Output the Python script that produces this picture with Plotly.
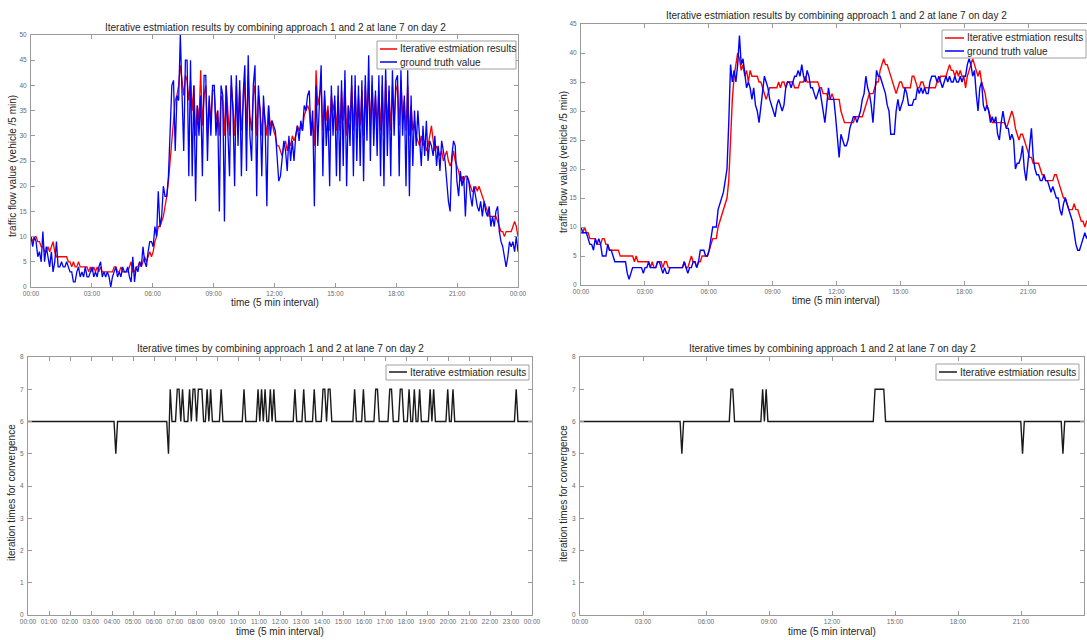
import pandas as pd
import plotly.graph_objects as go

W, H = 1087, 640
FONT = "Liberation Sans, Arial, sans-serif"

DAY0 = "2016-01-01 00:00"
DAY1 = "2016-01-02 00:00"
times = pd.date_range(DAY0, DAY1, periods=288)

TITLE_FLOW = "Iterative estmiation results by combining approach 1 and 2 at lane 7 on day 2"
TITLE_ITER = "Iterative times by combining approach 1 and 2 at lane 7 on day 2"
X_TITLE = "time (5 min interval)"
Y_TITLE_FLOW = "traffic flow value (vehicle /5 min)"
Y_TITLE_ITER = "iteration times for convergence"
NAME_EST = "Iterative estmiation results"
NAME_TRUTH = "ground truth value"

RED = "#ff0000"
BLUE = "#0000ff"
BLACK = "#1a1a1a"

# left column, one row = one hour of 5-min samples
est_left = [
    10, 9, 10, 10, 9, 9, 8, 8, 7, 7, 8, 7,
    8, 9, 7, 6, 6, 6, 6, 6, 6, 6, 5, 5,
    4, 5, 4, 4, 5, 4, 4, 4, 4, 4, 3, 4,
    3, 4, 3, 4, 3, 4, 3, 3, 3, 3, 3, 3,
    3, 4, 4, 3, 3, 4, 3, 3, 3, 3, 4, 5,
    3, 3, 4, 4, 5, 4, 5, 6, 5, 6, 7, 6,
    7, 9, 10, 12, 12, 13, 14, 16, 18, 21, 25, 30,
    33, 37, 38, 40, 44, 41, 38, 42, 41, 37, 41, 35,
    40, 30, 36, 33, 43, 32, 38, 40, 30, 37, 33, 39,
    39, 33, 35, 30, 38, 37, 30, 40, 34, 30, 40, 36,
    30, 40, 32, 39, 31, 37, 41, 31, 42, 34, 31, 38,
    40, 30, 38, 35, 30, 36, 33, 30, 36, 32, 33, 31,
    30, 28, 28, 27, 26, 28, 29, 27, 29, 28, 30, 29,
    30, 32, 31, 32, 31, 34, 35, 36, 35, 30, 33, 28,
    43, 36, 38, 40, 31, 38, 33, 36, 31, 38, 35, 37,
    31, 38, 31, 39, 33, 41, 30, 36, 33, 40, 31, 39,
    32, 38, 32, 39, 30, 40, 33, 41, 32, 40, 33, 38,
    32, 39, 31, 40, 30, 41, 32, 39, 31, 40, 33, 39,
    40, 32, 41, 34, 37, 31, 40, 30, 36, 31, 33, 30,
    29, 28, 30, 28, 29, 27, 28, 30, 32, 29, 27, 28,
    27, 26, 27, 25, 26, 27, 25, 24, 25, 27, 25, 24,
    23, 21, 22, 21, 22, 22, 21, 20, 19, 19, 20, 19,
    20, 19, 18, 17, 16, 15, 14, 14, 14, 14, 14, 13,
    12, 11, 11, 10, 11, 11, 11, 11, 12, 13, 12, 10,
]
truth_left = [
    10, 8, 10, 9, 6, 7, 5, 11, 5, 8, 6, 4,
    7, 3, 5, 9, 4, 4, 5, 4, 4, 5, 4, 3,
    3, 1, 1, 3, 4, 2, 3, 2, 4, 2, 2, 3,
    4, 2, 3, 2, 4, 5, 2, 3, 2, 3, 2, 0,
    2, 3, 4, 2, 3, 2, 4, 3, 3, 4, 2, 1,
    6, 1, 4, 3, 5, 4, 8, 5, 4, 7, 9, 9,
    8, 12, 10, 19, 12, 14, 20, 18, 18, 22, 30, 40,
    41, 27, 38, 37, 50, 38, 27, 45, 45, 22, 45, 22,
    40, 17, 36, 30, 38, 22, 42, 42, 25, 38, 30, 40,
    40, 30, 35, 15, 40, 38, 13, 40, 30, 22, 42, 35,
    20, 42, 28, 41, 22, 38, 44, 23, 46, 30, 25, 40,
    44, 18, 40, 35, 22, 38, 32, 16, 36, 30, 33, 32,
    31, 26, 21, 22, 25, 29, 27, 23, 30, 25, 29, 25,
    30, 32, 29, 33, 31, 36, 35, 38, 39, 30, 35, 16,
    40, 28, 37, 44, 22, 39, 28, 35, 20, 40, 30, 38,
    22, 40, 21, 41, 24, 43, 20, 36, 28, 42, 22, 42,
    25, 40, 24, 41, 21, 42, 29, 46, 25, 42, 28, 39,
    26, 42, 22, 42, 20, 44, 26, 40, 22, 43, 30, 41,
    42, 22, 43, 30, 38, 20, 43, 18, 38, 24, 35, 28,
    35, 29, 24, 32, 26, 33, 25, 29, 28, 26, 30, 24,
    28, 23, 29, 27, 25, 21, 17, 15, 26, 29, 28, 21,
    18, 23, 20, 22, 14, 22, 21, 18, 16, 20, 18, 16,
    15, 17, 14, 17, 15, 14, 16, 12, 14, 12, 15, 16,
    11, 9, 8, 6, 4, 6, 9, 8, 9, 7, 10, 7,
]

# right column
est_right = [
    9, 9, 10, 9, 9, 8, 8, 8, 8, 7, 7, 7,
    8, 8, 7, 7, 6, 6, 6, 6, 6, 6, 5, 5,
    5, 5, 5, 5, 5, 5, 4, 5, 4, 4, 4, 4,
    4, 4, 4, 3, 4, 3, 3, 4, 4, 4, 3, 4,
    4, 3, 3, 3, 3, 3, 3, 3, 3, 3, 4, 3,
    3, 4, 5, 4, 4, 3, 4, 4, 5, 5, 5, 5,
    6, 7, 8, 8, 8, 10, 11, 12, 13, 14, 15, 18,
    25, 32, 36, 38, 40, 39, 37, 38, 36, 37, 35, 37,
    36, 36, 36, 36, 35, 35, 34, 33, 32, 33, 34, 34,
    34, 34, 34, 35, 34, 35, 35, 34, 35, 35, 35, 35,
    34, 34, 34, 35, 35, 35, 36, 35, 35, 35, 35, 35,
    35, 35, 34, 34, 33, 33, 33, 32, 32, 33, 32, 32,
    32, 32, 30, 29, 28, 28, 28, 28, 28, 28, 29, 29,
    29, 29, 29, 30, 31, 32, 33, 33, 33, 34, 35, 35,
    37, 38, 39, 38, 38, 37, 36, 35, 34, 33, 34, 35,
    35, 34, 34, 34, 34, 34, 36, 36, 35, 34, 34, 35,
    35, 34, 34, 34, 34, 34, 34, 34, 35, 35, 36, 36,
    36, 36, 37, 38, 37, 37, 36, 37, 36, 37, 36, 36,
    34, 36, 37, 38, 39, 38, 37, 36, 37, 35, 34, 33,
    31, 30, 29, 28, 28, 28, 28, 28, 28, 28, 28, 27,
    28, 29, 30, 29, 27, 26, 25, 26, 26, 25, 24, 23,
    22, 22, 21, 21, 21, 21, 20, 19, 19, 18, 18, 18,
    18, 18, 19, 19, 18, 17, 16, 15, 15, 14, 13, 13,
    13, 14, 13, 13, 12, 11, 11, 10, 11, 11, 11, 12,
]
truth_right = [
    10, 9, 9, 9, 8, 7, 7, 6, 8, 7, 8, 7,
    5, 5, 5, 7, 6, 6, 5, 4, 4, 4, 4, 4,
    4, 4, 2, 1, 2, 3, 3, 3, 3, 3, 3, 2,
    3, 3, 4, 3, 3, 3, 3, 4, 4, 3, 2, 3,
    2, 2, 3, 3, 3, 3, 3, 3, 3, 3, 4, 3,
    2, 3, 3, 4, 4, 3, 4, 6, 6, 6, 5, 5,
    6, 8, 10, 10, 10, 13, 14, 15, 16, 18, 20, 28,
    38, 35, 37, 35, 38, 43, 38, 39, 36, 34, 35, 34,
    32, 34, 31, 30, 28, 31, 34, 36, 35, 34, 32, 31,
    30, 29, 31, 32, 31, 30, 31, 34, 35, 35, 34, 35,
    36, 36, 37, 36, 38, 36, 35, 37, 36, 34, 34, 33,
    32, 33, 34, 32, 30, 28, 31, 34, 32, 32, 32, 29,
    26, 22, 26, 25, 24, 24, 25, 27, 28, 29, 29, 28,
    29, 30, 32, 33, 36, 34, 33, 31, 28, 33, 37, 36,
    36, 35, 34, 33, 31, 30, 26, 26, 26, 30, 32, 30,
    31, 32, 34, 33, 31, 31, 31, 32, 32, 34, 33, 34,
    33, 34, 33, 33, 35, 36, 36, 36, 35, 36, 35, 34,
    35, 36, 35, 36, 35, 35, 36, 35, 35, 36, 35, 36,
    36, 38, 39, 38, 36, 37, 33, 30, 34, 35, 31, 30,
    31, 30, 28, 29, 28, 29, 26, 25, 28, 30, 28, 27,
    27, 25, 26, 25, 20, 21, 21, 22, 24, 20, 18, 21,
    25, 27, 22, 20, 19, 19, 18, 18, 19, 18, 18, 17,
    16, 17, 16, 15, 15, 13, 12, 14, 15, 14, 13, 12,
    11, 9, 7, 6, 6, 7, 8, 9, 8, 9, 8, 9,
]

iter_left = [
    6, 6, 6, 6, 6, 6, 6, 6, 6, 6, 6, 6,
    6, 6, 6, 6, 6, 6, 6, 6, 6, 6, 6, 6,
    6, 6, 6, 6, 6, 6, 6, 6, 6, 6, 6, 6,
    6, 6, 6, 6, 6, 6, 6, 6, 6, 6, 6, 6,
    6, 6, 5, 6, 6, 6, 6, 6, 6, 6, 6, 6,
    6, 6, 6, 6, 6, 6, 6, 6, 6, 6, 6, 6,
    6, 6, 6, 6, 6, 6, 6, 6, 5, 7, 6, 6,
    6, 7, 7, 6, 7, 6, 6, 6, 7, 6, 7, 7,
    6, 7, 7, 7, 6, 6, 7, 6, 7, 6, 6, 6,
    6, 6, 7, 6, 6, 6, 6, 6, 6, 6, 6, 6,
    6, 6, 6, 7, 6, 6, 6, 6, 6, 6, 6, 7,
    6, 7, 6, 7, 6, 6, 7, 6, 7, 6, 6, 6,
    6, 6, 6, 6, 6, 6, 6, 6, 7, 6, 6, 6,
    6, 7, 6, 6, 6, 6, 6, 7, 6, 6, 6, 6,
    7, 7, 6, 7, 7, 6, 6, 6, 6, 6, 6, 6,
    6, 6, 6, 6, 6, 6, 7, 6, 6, 6, 6, 7,
    6, 6, 6, 6, 6, 6, 7, 7, 6, 6, 6, 6,
    6, 6, 7, 7, 6, 6, 6, 6, 7, 7, 6, 6,
    6, 7, 6, 6, 7, 6, 6, 7, 6, 6, 6, 6,
    6, 7, 6, 7, 6, 6, 6, 6, 6, 6, 6, 7,
    6, 6, 7, 6, 6, 6, 6, 6, 6, 6, 6, 6,
    6, 6, 6, 6, 6, 6, 6, 6, 6, 6, 6, 6,
    6, 6, 6, 6, 6, 6, 6, 6, 6, 6, 6, 6,
    6, 6, 7, 6, 6, 6, 6, 6, 6, 6, 6, 6,
]
iter_right = [
    6, 6, 6, 6, 6, 6, 6, 6, 6, 6, 6, 6,
    6, 6, 6, 6, 6, 6, 6, 6, 6, 6, 6, 6,
    6, 6, 6, 6, 6, 6, 6, 6, 6, 6, 6, 6,
    6, 6, 6, 6, 6, 6, 6, 6, 6, 6, 6, 6,
    6, 6, 6, 6, 6, 6, 6, 6, 6, 6, 5, 6,
    6, 6, 6, 6, 6, 6, 6, 6, 6, 6, 6, 6,
    6, 6, 6, 6, 6, 6, 6, 6, 6, 6, 6, 6,
    6, 6, 7, 7, 6, 6, 6, 6, 6, 6, 6, 6,
    6, 6, 6, 6, 6, 6, 6, 6, 7, 6, 7, 6,
    6, 6, 6, 6, 6, 6, 6, 6, 6, 6, 6, 6,
    6, 6, 6, 6, 6, 6, 6, 6, 6, 6, 6, 6,
    6, 6, 6, 6, 6, 6, 6, 6, 6, 6, 6, 6,
    6, 6, 6, 6, 6, 6, 6, 6, 6, 6, 6, 6,
    6, 6, 6, 6, 6, 6, 6, 6, 6, 6, 6, 6,
    7, 7, 7, 7, 7, 7, 6, 6, 6, 6, 6, 6,
    6, 6, 6, 6, 6, 6, 6, 6, 6, 6, 6, 6,
    6, 6, 6, 6, 6, 6, 6, 6, 6, 6, 6, 6,
    6, 6, 6, 6, 6, 6, 6, 6, 6, 6, 6, 6,
    6, 6, 6, 6, 6, 6, 6, 6, 6, 6, 6, 6,
    6, 6, 6, 6, 6, 6, 6, 6, 6, 6, 6, 6,
    6, 6, 6, 6, 6, 6, 6, 6, 6, 6, 6, 6,
    5, 6, 6, 6, 6, 6, 6, 6, 6, 6, 6, 6,
    6, 6, 6, 6, 6, 6, 6, 6, 6, 6, 6, 5,
    6, 6, 6, 6, 6, 6, 6, 6, 6, 6, 6, 6,
]


def px_x(p):
    return p / W


def px_y(p):
    return 1 - p / H


AXIS_COLOR = "#9a9a9a"
TICK_FONT = dict(family=FONT, size=6.5, color="#6a6a6a")


def x_axis(domain, anchor, dtick_h, end, mirror="ticks"):
    return dict(
        domain=domain, anchor=anchor, type="date", range=[DAY0, end],
        tickformat="%H:%M", dtick=dtick_h * 3600000, tick0=DAY0,
        showline=True, linecolor=AXIS_COLOR, linewidth=1, mirror=mirror,
        ticks="inside", ticklen=4, tickcolor=AXIS_COLOR, tickwidth=1,
        showgrid=False, zeroline=False, tickfont=TICK_FONT,
        automargin=False, ticklabelstandoff=0,
    )


def y_axis(domain, anchor, top, dtick, mirror="ticks"):
    return dict(
        domain=domain, anchor=anchor, range=[0, top], dtick=dtick,
        showline=True, linecolor=AXIS_COLOR, linewidth=1, mirror=mirror,
        ticks="inside", ticklen=4, tickcolor=AXIS_COLOR, tickwidth=1,
        showgrid=False, zeroline=False, tickfont=TICK_FONT,
        automargin=False, ticklabelstandoff=2,
    )


fig = go.Figure()

fig.add_trace(go.Scatter(x=times, y=est_left, name=NAME_EST, mode="lines",
                         line=dict(color=RED, width=1.3), xaxis="x", yaxis="y"))
fig.add_trace(go.Scatter(x=times, y=truth_left, name=NAME_TRUTH, mode="lines",
                         line=dict(color=BLUE, width=1.3), xaxis="x", yaxis="y"))
fig.add_trace(go.Scatter(x=times, y=est_right, name=NAME_EST, mode="lines",
                         line=dict(color=RED, width=1.4), xaxis="x2", yaxis="y2"))
fig.add_trace(go.Scatter(x=times, y=truth_right, name=NAME_TRUTH, mode="lines",
                         line=dict(color=BLUE, width=1.4), xaxis="x2", yaxis="y2"))
fig.add_trace(go.Scatter(x=times, y=iter_left, name=NAME_EST, mode="lines",
                         line=dict(color=BLACK, width=1.4), xaxis="x3", yaxis="y3"))
fig.add_trace(go.Scatter(x=times, y=iter_right, name=NAME_EST, mode="lines",
                         line=dict(color=BLACK, width=1.4), xaxis="x4", yaxis="y4"))

tl_x = [px_x(31), px_x(518)]
tl_y = [px_y(287), px_y(35)]
tr_x = [px_x(581), 1.0]
tr_y = [px_y(285), px_y(24)]
bl_x = [px_x(28), px_x(532)]
bl_y = [px_y(615), px_y(357)]
br_x = [px_x(580), px_x(1084)]
br_y = bl_y

annotations = []
shapes = []


def text_at(txt, x, y, size, angle=0, anchor="center"):
    annotations.append(dict(
        text=txt, x=px_x(x), y=px_y(y), xref="paper", yref="paper",
        showarrow=False, textangle=angle, xanchor=anchor, yanchor="middle",
        font=dict(family=FONT, size=size, color="#262626"),
    ))


# MATLAB-style legend box: short line sample then label, rows 13px apart
def legend_box(x0, y0, x1, y1, entries, line_x0, line_x1):
    shapes.append(dict(type="rect", xref="paper", yref="paper",
                       x0=px_x(x0), x1=px_x(x1), y0=px_y(y1), y1=px_y(y0),
                       line=dict(color="#a0a0a0", width=1), fillcolor="white", layer="above"))
    for label, color, row_y in entries:
        shapes.append(dict(type="line", xref="paper", yref="paper",
                           x0=px_x(line_x0), x1=px_x(line_x1), y0=px_y(row_y), y1=px_y(row_y),
                           line=dict(color=color, width=1.5), layer="above"))
        text_at(label, line_x1 + 1, row_y, 10, anchor="left")


legend_box(377, 41, 516, 69, [(NAME_EST, RED, 49), (NAME_TRUTH, BLUE, 62)], 380, 397)
legend_box(942, 30, 1086, 58, [(NAME_EST, RED, 38), (NAME_TRUTH, BLUE, 51)], 945, 964)
legend_box(386, 365, 529, 380, [(NAME_EST, BLACK, 372)], 389, 407)
legend_box(936, 364, 1079, 380, [(NAME_EST, BLACK, 372)], 939, 957)

text_at(TITLE_FLOW, 275, 27, 10)
text_at(TITLE_FLOW, 836, 15, 10)
text_at(TITLE_ITER, 280, 348, 10)
text_at(TITLE_ITER, 832, 348, 10)
text_at(X_TITLE, 275, 302, 10)
text_at(X_TITLE, 836, 300, 10)
text_at(X_TITLE, 280, 631, 10)
text_at(X_TITLE, 832, 631, 10)
text_at(Y_TITLE_FLOW, 12, 166, 10, -90)
text_at(Y_TITLE_FLOW, 563, 162, 10, -90)
text_at(Y_TITLE_ITER, 11, 493, 10, -90)
text_at(Y_TITLE_ITER, 563, 494, 10, -90)

fig.update_layout(
    width=W, height=H,
    margin=dict(l=0, r=0, t=0, b=0, autoexpand=False),
    paper_bgcolor="white", plot_bgcolor="white",
    showlegend=False,
    xaxis=x_axis(tl_x, "y", 3, DAY1),
    yaxis=y_axis(tl_y, "x", 50, 5),
    xaxis2=x_axis(tr_x, "y2", 3, "2016-01-01 23:46"),
    yaxis2=y_axis(tr_y, "x2", 45, 5, mirror=False),
    xaxis3=x_axis(bl_x, "y3", 1, DAY1),
    yaxis3=y_axis(bl_y, "x3", 8, 1),
    xaxis4=x_axis(br_x, "y4", 3, DAY1),
    yaxis4=y_axis(br_y, "x4", 8, 1),
    annotations=annotations,
    shapes=shapes,
)

fig.write_html("out.html", config={"displayModeBar": False},
               post_script="document.body.style.margin='0';")
